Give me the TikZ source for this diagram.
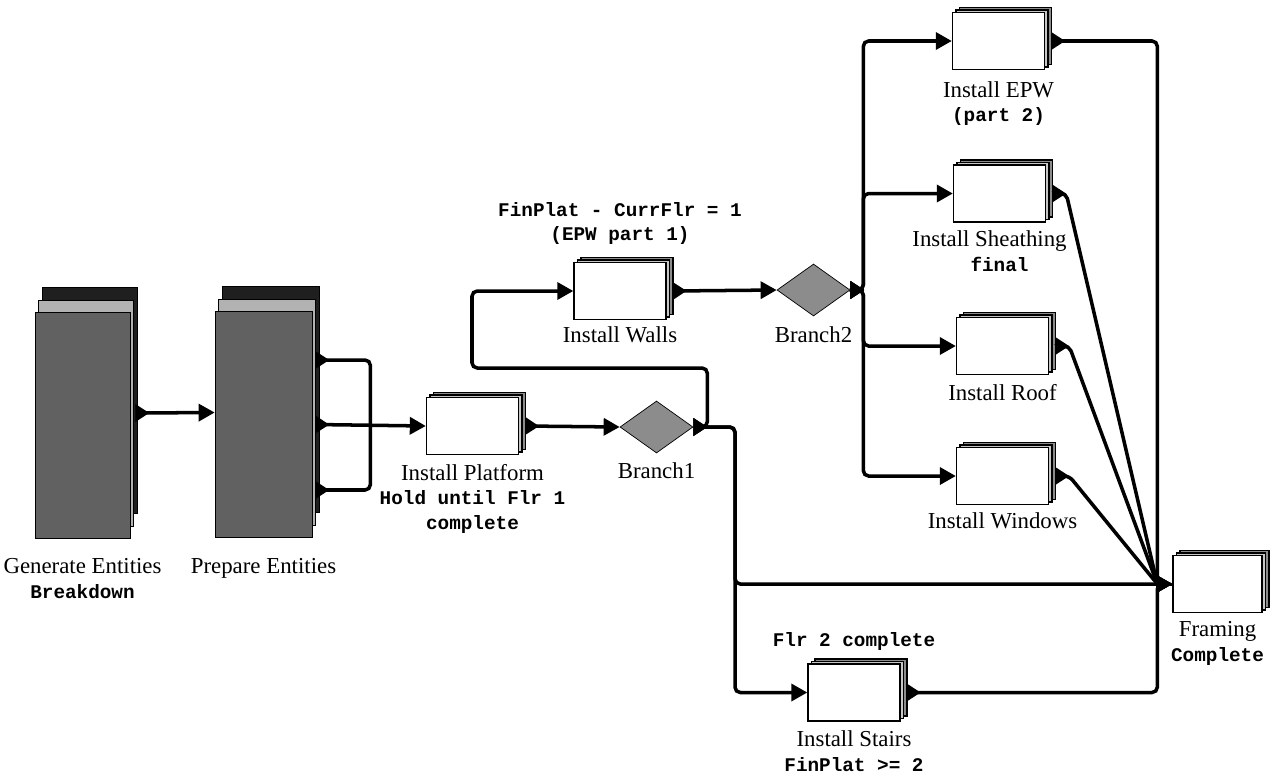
\documentclass[tikz,border=0pt]{standalone}
\usepackage{fontspec}
\setmainfont{Liberation Serif}
\newfontfamily\codefont{Liberation Mono}
\usetikzlibrary{arrows.meta, positioning, shapes.geometric, shadows}
\newcommand{\cond}{\codefont\bfseries\fontsize{11}{11}\selectfont}

\begin{document}
\begin{tikzpicture}[
  x=0.02cm, y=-0.02cm,
  every label/.style={align=center, inner sep=1pt, font=\fontsize{13}{14}\selectfont},
  label distance=0.12cm,
  entity/.style={draw, fill=black!62, minimum width=1.9cm, minimum height=4.52cm, inner sep=0,
    general shadow={shadow xshift=0.14cm, shadow yshift=0.5cm, fill=black!88, draw=black},
    general shadow={shadow xshift=0.06cm, shadow yshift=0.24cm, fill=black!30, draw=black}},
  task/.style={draw, fill=white, line width=0.8pt, minimum width=1.84cm, minimum height=1.14cm, inner sep=0,
    general shadow={shadow xshift=0.14cm, shadow yshift=0.1cm, fill=black!45, draw=black},
    general shadow={shadow xshift=0.07cm, shadow yshift=0.05cm, fill=black!22, draw=black}},
  branch/.style={diamond, draw, fill=black!45, minimum width=1.46cm, minimum height=1.04cm, inner sep=0},
  wire/.style={line width=2pt, rounded corners=3pt},
  feed/.style={wire, {Triangle[reversed, length=0.28cm, width=0.34cm]}-},
  flow/.style={wire, {Triangle[reversed, length=0.28cm, width=0.34cm]}-{Triangle[length=0.32cm, width=0.34cm]}}
]
\useasboundingbox (0,0) rectangle (1288,782);

  % entity sources
  \node[entity, label={[label distance=0.36cm]below:{Generate Entities\\\cond Breakdown}}] (gen) at (82.5,425) {};
  \node[entity, minimum width=1.94cm, label={[label distance=0.36cm]below:{Prepare Entities}}] (prep) at (263.5,424.5) {};

  % first floor
  \node[task, label={[label distance=0.14cm]below:{Install Platform\\\cond Hold until Flr 1\\\cond complete}}] (plat) at (472.5,426) {};
  \node[branch, label={[label distance=0.14cm]below:{Branch1}}] (br1) at (656.5,427) {};
  \node[task, label={[label distance=0.08cm]below:{Install Walls}}, label={[label distance=0.3cm]above:{\cond FinPlat - CurrFlr = 1\\\cond (EPW part 1)}}] (walls) at (620,291) {};
  \node[branch, label={[label distance=0.16cm]below:{Branch2}}] (br2) at (813.5,290) {};

  % upper floor tasks
  \node[task, label={[label distance=0.18cm]below:{Install EPW\\\cond (part 2)}}] (epw) at (998.5,41) {};
  \node[task, label={[xshift=-0.2cm]below:{Install Sheathing\\\cond \hspace{0.4cm}final}}] (sheath) at (999.5,193.5) {};
  \node[task, label={[label distance=0.14cm]below:{Install Roof}}] (roof) at (1002.5,346) {};
  \node[task, label={[label distance=0.1cm]below:{Install Windows}}] (win) at (1002.5,476) {};
  \node[task, label={[label distance=0.14cm]below:{Install Stairs\\\cond FinPlat >= 2}}, label={[label distance=0.22cm]above:{\cond Flr 2 complete}}] (stairs) at (854,692.5) {};
  \node[task, minimum width=1.78cm, label={below:{Framing\\\cond Complete}}] (frame) at (1217.5,584) {};

  % bends
  \coordinate (fork) at ([xshift=1.16cm]prep.east);
  \coordinate (split) at ([xshift=0.28cm]br1.east);
  \coordinate (loop) at (472,368);
  \coordinate (drop) at (735,427);
  \coordinate (bus) at ([xshift=0.26cm]br2.east);
  \coordinate (merge) at ([xshift=-0.3cm]frame.west);

  \draw[flow] ([xshift=0.1cm, yshift=0.24cm]gen.east) -- ([yshift=0.24cm]prep.west);
  \draw[feed] ([xshift=0.06cm, yshift=1.29cm]prep.east) -| (fork);
  \draw[feed] ([xshift=0.06cm, yshift=-1.31cm]prep.east) -| (fork);
  \draw[flow] ([xshift=0.06cm]prep.east) -- (plat.west);
  \draw[flow] ([xshift=0.12cm]plat.east) -- (br1.west);

  \draw[flow] (br1.east) -- (split) |- (loop) |- (walls.west);
  \draw[flow] (br1.east) -- (drop) |- (frame.west);
  \draw[flow] (br1.east) -- (drop) |- (stairs.west);
  \draw[flow] ([xshift=0.12cm]walls.east) -- (br2.west);

  \draw[flow] (br2.east) -- (bus) |- (epw.west);
  \draw[flow] (br2.east) -- (bus) |- (sheath.west);
  \draw[flow] (br2.east) -- (bus) |- (roof.west);
  \draw[flow] (br2.east) -- (bus) |- (win.west);

  \draw[flow] ([xshift=0.12cm]epw.east) -| (merge) -- (frame.west);
  \draw[flow] ([xshift=0.12cm]sheath.east) -- ([xshift=0.4cm]sheath.east) -- (merge) -- (frame.west);
  \draw[flow] ([xshift=0.12cm]roof.east) -- ([xshift=0.4cm]roof.east) -- (merge) -- (frame.west);
  \draw[flow] ([xshift=0.12cm]win.east) -- ([xshift=0.4cm]win.east) -- (merge) -- (frame.west);
  \draw[flow] ([xshift=0.12cm]stairs.east) -| (merge) -- (frame.west);

\end{tikzpicture}
\end{document}
